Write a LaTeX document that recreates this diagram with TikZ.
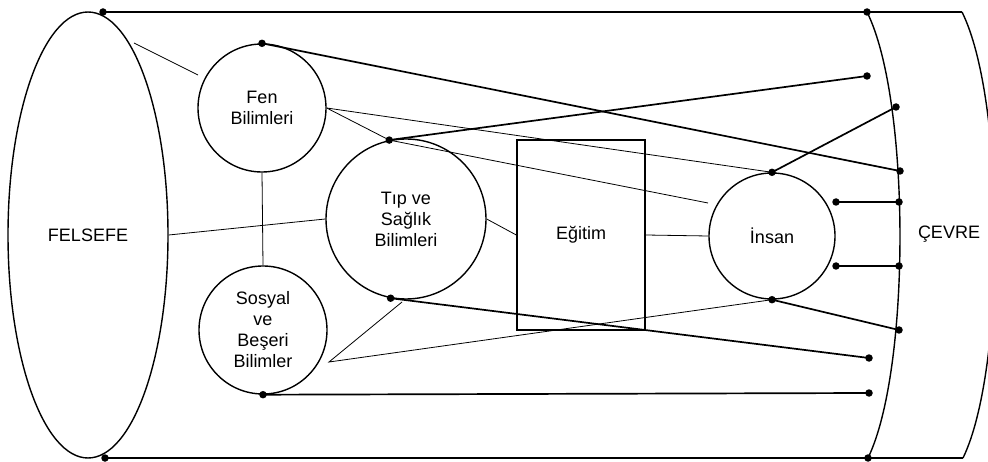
\documentclass[tikz,border=0pt]{standalone}
\usepackage{fontspec}
\setmainfont{Liberation Sans}
\usetikzlibrary{shapes.geometric}
\begin{document}
\begin{tikzpicture}[x=1pt,y=-1pt,
  every node/.style={font=\fontsize{18}{21}\selectfont},
  circ/.style={draw, circle, line width=1.4pt, inner sep=0pt, align=center},
  dotn/.style={circle, fill=black, inner sep=0pt, minimum size=7.5pt},
  thinln/.style={line width=0.8pt},
  thickln/.style={line width=1.7pt},
  outl/.style={line width=1.4pt}]
\useasboundingbox (0,0) rectangle (988,462);
\clip (0,0) rectangle (988,462);
% main shapes
\node[draw, ellipse, outl, minimum width=160pt, minimum height=446pt, inner sep=0pt] (felsefe) at (88,235) {FELSEFE};
\node[circ, minimum size=128pt] (fen) at (262,108) {Fen\\Bilimleri};
\node[circ, minimum size=128pt] (sosyal) at (263,330) {Sosyal\\ve\\Beşeri\\Bilimler};
\node[circ, minimum size=160pt] (tip) at (406,219) {Tıp ve\\Sağlık\\Bilimleri};
\node[draw, outl, minimum width=128pt, minimum height=190pt, inner sep=0pt] (egitim) at (581,235) {Eğitim};
\node[circ, minimum size=126pt] (insan) at (772,236) {İnsan};
\node (cevre) at (949,234) {ÇEVRE};
% environment arcs
\draw[outl] (867,12) .. controls (910.8,100) and (910.8,370) .. (868,458);
\draw[outl] (962,12) .. controls (1005.8,100) and (1005.8,370) .. (963,458);
% coordinates
\coordinate (otop) at (962,12);
\coordinate (obot) at (963,458);
\coordinate (fa) at (134,43);
\coordinate (fb) at (198,75);
\coordinate (ia) at (708,203);
\coordinate (sa) at (329,362);
\coordinate (sb) at (402,302);
% dots
\node[dotn] (ftop) at (103,12) {};
\node[dotn] (fbot) at (105,458) {};
\node[dotn] (c1) at (867,12) {};
\node[dotn] (c2) at (867,76) {};
\node[dotn] (c3) at (896,107) {};
\node[dotn] (c4) at (900,171) {};
\node[dotn] (c5) at (899,202) {};
\node[dotn] (c6) at (899,266) {};
\node[dotn] (c7) at (899,330) {};
\node[dotn] (c8) at (869,358) {};
\node[dotn] (c9) at (869,393) {};
\node[dotn] (c10) at (868,458) {};
\node[dotn] (fentop) at (fen.north) {};
\node[dotn] (tiptop) at (tip.102) {};
\node[dotn] (tipbot) at (tip.259) {};
\node[dotn] (instop) at (insan.north) {};
\node[dotn] (insbot) at (insan.south) {};
\node[dotn] (insr1) at (836,202) {};
\node[dotn] (insr2) at (836,266) {};
\node[dotn] (sosbot) at (sosyal.south) {};
% frame lines
\draw[outl] (ftop.center) -- (otop);
\draw[outl] (fbot.center) -- (obot);
% thin connectors
\draw[thinln] (fa) -- (fb);
\draw[thinln] (fen.south) -- (sosyal.north);
\draw[thinln] (felsefe.east) -- (tip.west);
\draw[thinln] (fen.east) -- (instop.center);
\draw[thinln] (fen.east) -- (tiptop.center);
\draw[thinln] (tiptop.center) -- (ia);
\draw[thinln] (tip.east) -- (egitim.west);
\draw[thinln] (egitim.east) -- (insan.west);
\draw[thinln] (sb) -- (sa) -- (insbot.center);
% thick connectors
\draw[thickln] (fentop.center) -- (c4.center);
\draw[thickln] (tiptop.center) -- (c2.center);
\draw[thickln] (instop.center) -- (c3.center);
\draw[thickln] (insr1.center) -- (c5.center);
\draw[thickln] (insr2.center) -- (c6.center);
\draw[thickln] (insbot.center) -- (c7.center);
\draw[thickln] (tipbot.center) -- (c8.center);
\draw[thickln] (sosbot.center) -- (c9.center);
\end{tikzpicture}
\end{document}
